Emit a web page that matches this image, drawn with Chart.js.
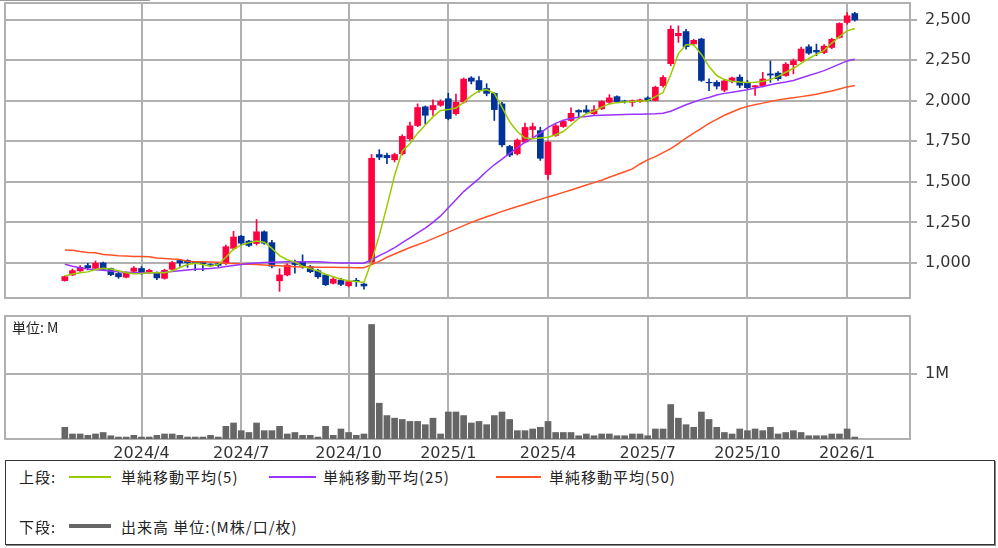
<!DOCTYPE html>
<html lang="ja">
<head>
<meta charset="utf-8">
<script src="https://cdn.jsdelivr.net/npm/chart.js@4.4.1/dist/chart.umd.min.js"></script>
<style>
    body { margin: 0; width: 998px; height: 548px; background: #fff; position: relative; overflow: hidden; font-family: "Noto Sans CJK JP", sans-serif; color: #222; }
    #topline { position: absolute; left: 0; top: 0; width: 150px; height: 1px; background: #999; }
    #price { position: absolute; left: 0; top: 0; }
    #volume { position: absolute; left: 0; top: 300px; }
    #unit { position: absolute; left: 12px; top: 319px; font-size: 14px; line-height: 16px; }
    #legend { position: absolute; left: 5px; top: 460px; width: 990px; height: 85px; box-sizing: border-box; border: 1px solid #333; box-shadow: 1px 1px 0 #888; }
    #legend span { position: absolute; font-size: 15px; line-height: 20px; letter-spacing: 1px; white-space: nowrap; }
    #legend i { position: absolute; display: block; }
</style>
</head>
<body>
<div id="topline"></div>
<canvas id="price" width="998" height="300"></canvas>
<canvas id="volume" width="998" height="160"></canvas>
<div id="unit">単位: M</div>
<div id="legend">
    <span style="left:13px; top:6px;">上段:</span>
    <i style="left:63px; top:15px; width:42px; height:2px; background:#99cc00;"></i>
    <span style="left:115px; top:6px;">単純移動平均(5)</span>
    <i style="left:263px; top:15px; width:47px; height:2px; background:#9933ff;"></i>
    <span style="left:317px; top:6px;">単純移動平均(25)</span>
    <i style="left:490px; top:15px; width:45px; height:2px; background:#ff5226;"></i>
    <span style="left:543px; top:6px;">単純移動平均(50)</span>
    <span style="left:13px; top:56px;">下段:</span>
    <i style="left:63px; top:63px; width:42px; height:4px; background:#666;"></i>
    <span style="left:115px; top:56px;">出来高 単位:(M株/口/枚)</span>
</div>
<script>
// weekly candles, index 0 = week of 2024/1/22
const opens = [891, 926, 951, 984, 967, 1000, 965, 935, 912, 948, 966, 942, 940, 905, 961, 1015, 1015, 1005, 1003, 990,
    995, 998, 1090, 1165, 1135, 1120, 1192, 1125, 890, 926, 1000, 1008, 977, 952, 926, 875, 895, 860, 893, 870,
    1005, 1668, 1663, 1636, 1673, 1765, 1847, 1962, 1944, 1972, 2012, 1920, 1992, 2140, 2124, 2075, 2045, 1980, 1718, 1673,
    1745, 1822, 1815, 1545, 1786, 1841, 1878, 1940, 1943, 1919, 1950, 1990, 2025, 1998, 1990, 1995, 2017, 2001, 2093, 2228,
    2400, 2426, 2350, 2380, 2113, 2113, 2065, 2120, 2145, 2113, 2085, 2092, 2165, 2170, 2155, 2222, 2246, 2332, 2310, 2297,
    2328, 2390, 2482, 2537];
const highs = [920, 963, 984, 998, 1012, 1005, 968, 945, 945, 978, 978, 962, 945, 962, 1010, 1020, 1020, 1008, 1008, 995,
    998, 1110, 1195, 1170, 1140, 1268, 1198, 1140, 965, 995, 1018, 1050, 985, 960, 930, 915, 905, 890, 905, 875,
    1668, 1698, 1677, 1677, 1790, 1868, 1980, 1968, 2005, 2005, 2046, 2040, 2140, 2148, 2148, 2105, 2050, 1990, 1725, 1765,
    1862, 1862, 1837, 1752, 1855, 1880, 1956, 1945, 1970, 1970, 2000, 2037, 2030, 2003, 2005, 2010, 2025, 2090, 2155, 2462,
    2461, 2440, 2378, 2385, 2134, 2124, 2130, 2145, 2160, 2125, 2095, 2175, 2245, 2180, 2235, 2257, 2330, 2345, 2349, 2345,
    2385, 2480, 2543, 2545];
const lows = [888, 922, 948, 957, 962, 955, 922, 905, 908, 945, 930, 935, 897, 900, 958, 978, 973, 953, 953, 980,
    978, 990, 1080, 1110, 1100, 1110, 1115, 970, 825, 920, 937, 967, 940, 905, 860, 870, 860, 852, 855, 838,
    995, 1636, 1612, 1622, 1665, 1755, 1840, 1857, 1909, 1965, 1882, 1910, 1985, 2103, 2052, 2030, 1878, 1715, 1655, 1665,
    1740, 1776, 1632, 1515, 1780, 1835, 1872, 1898, 1920, 1915, 1945, 1980, 1988, 1985, 1965, 1990, 1995, 1998, 2083, 2215,
    2359, 2318, 2340, 2118, 2062, 2072, 2055, 2110, 2080, 2075, 2032, 2085, 2113, 2125, 2150, 2165, 2240, 2285, 2277, 2290,
    2320, 2385, 2472, 2490];
const closes = [916, 953, 973, 971, 998, 960, 928, 915, 940, 968, 942, 955, 908, 955, 1002, 1000, 1002, 1000, 995, 985,
    985, 1100, 1160, 1122, 1108, 1192, 1122, 980, 926, 987, 990, 982, 946, 915, 866, 900, 868, 885, 885, 858,
    1645, 1652, 1649, 1668, 1780, 1845, 1958, 1910, 1970, 1995, 1890, 1990, 2133, 2120, 2068, 2045, 1945, 1728, 1665, 1757,
    1835, 1840, 1645, 1745, 1845, 1872, 1922, 1930, 1930, 1943, 1995, 2017, 1993, 1995, 2000, 2005, 2001, 2083, 2143, 2440,
    2415, 2333, 2372, 2125, 2110, 2090, 2122, 2140, 2095, 2080, 2092, 2133, 2158, 2135, 2225, 2246, 2318, 2293, 2300, 2336,
    2378, 2476, 2523, 2498];
const ma5 = [920, 932, 940, 945, 960, 967, 963, 952, 940, 933, 935, 940, 940, 940, 950, 972, 990, 998, 990, 980,
    990, 1035, 1085, 1110, 1125, 1135, 1128, 1090, 1045, 1020, 1005, 980, 965, 950, 930, 915, 900, 890, 885, 880,
    1010, 1170, 1350, 1540, 1690, 1735, 1800, 1850, 1900, 1940, 1945, 1955, 1990, 2030, 2060, 2068, 2045, 1960, 1870, 1810,
    1770, 1765, 1770, 1775, 1790, 1810, 1850, 1890, 1920, 1935, 1960, 1980, 1988, 1992, 1995, 1998, 2000, 2025, 2050, 2160,
    2290, 2345, 2345, 2285, 2210, 2155, 2130, 2120, 2115, 2112, 2113, 2120, 2130, 2150, 2175, 2200, 2230, 2260, 2285, 2310,
    2355, 2395, 2430, 2445];
const ma25 = [992, 980, 970, 962, 958, 955, 950, 945, 942, 940, 940, 940, 940, 942, 947, 952, 957, 961, 963, 966,
    970, 978, 985, 990, 997, 1000, 1003, 1005, 1006, 1007, 1008, 1008, 1008, 1007, 1005, 1002, 1000, 999, 998, 998,
    1020, 1045, 1068, 1095, 1125, 1155, 1185, 1215, 1250, 1290, 1340, 1390, 1440, 1480, 1520, 1565, 1605, 1640, 1675, 1710,
    1745, 1770, 1800, 1835, 1860, 1880, 1890, 1898, 1903, 1908, 1910, 1912, 1913, 1915, 1916, 1917, 1918, 1919, 1922, 1935,
    1955, 1975, 1992, 2008, 2020, 2035, 2045, 2052, 2060, 2068, 2078, 2088, 2098, 2108, 2115, 2125, 2140, 2155, 2170, 2185,
    2205, 2225, 2245, 2255];
const ma50 = [1080, 1078, 1070, 1065, 1063, 1052, 1049, 1045, 1043, 1040, 1039, 1038, 1030, 1028, 1024, 1022, 1010, 1008, 1007, 1006,
    1004, 998, 996, 993, 992, 990, 988, 985, 982, 980, 977, 975, 975, 974, 973, 973, 972, 972, 971, 971,
    990, 1010, 1035, 1055, 1075, 1095, 1112, 1130, 1150, 1170, 1190, 1210, 1230, 1250, 1268, 1285, 1300, 1318, 1333, 1348,
    1362, 1377, 1392, 1407, 1420, 1435, 1450, 1465, 1480, 1495, 1510, 1528, 1545, 1562, 1580, 1610, 1635, 1655, 1680, 1705,
    1735, 1770, 1800, 1830, 1860, 1885, 1910, 1930, 1950, 1965, 1975, 1985, 1995, 2005, 2012, 2018, 2025, 2032, 2040, 2050,
    2060, 2072, 2085, 2093];
// volume in millions
const volumes = [0.18, 0.077, 0.077, 0.056, 0.077, 0.1, 0.05, 0.03, 0.03, 0.056, 0.03, 0.03, 0.056, 0.077, 0.077, 0.056, 0.03, 0.03, 0.03, 0.056,
    0.03, 0.195, 0.246, 0.128, 0.1, 0.246, 0.128, 0.128, 0.195, 0.077, 0.1, 0.056, 0.056, 0.03, 0.195, 0.056, 0.154, 0.1, 0.056, 0.077,
    1.76, 0.55, 0.36, 0.32, 0.30, 0.27, 0.27, 0.22, 0.32, 0.077, 0.415, 0.415, 0.36, 0.246, 0.27, 0.22, 0.36, 0.415, 0.30, 0.128,
    0.128, 0.154, 0.18, 0.27, 0.1, 0.1, 0.1, 0.05, 0.077, 0.05, 0.077, 0.077, 0.05, 0.05, 0.077, 0.077, 0.05, 0.154, 0.154, 0.53,
    0.32, 0.22, 0.18, 0.415, 0.30, 0.18, 0.1, 0.077, 0.154, 0.128, 0.154, 0.128, 0.18, 0.077, 0.1, 0.128, 0.1, 0.05, 0.05, 0.05,
    0.077, 0.077, 0.154, 0.03];

// first week of each quarter month
const monthTicks = [10, 23, 37, 50, 63, 76, 89, 102];
const monthLabels = ['2024/4', '2024/7', '2024/10', '2025/1', '2025/4', '2025/7', '2025/10', '2026/1'];
const priceTicks = [1000, 1250, 1500, 1750, 2000, 2250, 2500];
const volumeTicks = [1];

const UP = '#ff0040';
const DOWN = '#00339a';
const GRID = '#b0b0b0';
const X_MIN = -7.8, X_MAX = 110.2;

const candleColors = closes.map((c, i) => c >= opens[i] ? UP : DOWN);
const pts = arr => arr.map((v, i) => ({ x: i, y: v }));

const framePlugin = {
    id: 'frame',
    beforeDatasetsDraw(chart) {
        const { ctx, chartArea: a } = chart;
        ctx.save();
        ctx.strokeStyle = GRID;
        ctx.lineWidth = 2;
        ctx.strokeRect(a.left, a.top, a.right - a.left, a.bottom - a.top);
        ctx.restore();
    }
};

// keep the plot box where it is: no extra room for half labels
const fixWidth = s => {
    s.width = 88;
    s.paddingTop = 0;
    s.paddingBottom = 0;
};

const xAxis = (showLabels) => ({
    type: 'linear',
    min: X_MIN,
    max: X_MAX,
    offset: false,
    afterBuildTicks: s => { s.ticks = monthTicks.map(v => ({ value: v })); },
    afterFit: s => {
        s.height = showLabels ? 21 : 0;
        s.paddingLeft = 0;
        s.paddingRight = 0;
    },
    grid: { color: GRID, lineWidth: 2, drawTicks: false, offset: false },
    border: { display: false },
    ticks: {
        display: showLabels,
        autoSkip: false,
        maxRotation: 0,
        padding: 5,
        color: '#333',
        font: { family: 'DejaVu Sans', size: 16 },
        callback: (v, i) => monthLabels[i]
    }
});

Chart.defaults.animation = false;

new Chart(document.getElementById('price'), {
    type: 'bar',
    data: {
        datasets: [
            { type: 'line', data: pts(ma5), borderColor: '#99cc00', borderWidth: 1.5, pointRadius: 0, order: 0 },
            { type: 'line', data: pts(ma25), borderColor: '#9933ff', borderWidth: 1.5, pointRadius: 0, order: 0 },
            { type: 'line', data: pts(ma50), borderColor: '#ff5226', borderWidth: 1.5, pointRadius: 0, order: 0 },
            {
                data: opens.map((o, i) => ({ x: i, y: [o, closes[i]] })),
                backgroundColor: candleColors, barThickness: 6, grouped: false, order: 1
            },
            {
                data: lows.map((l, i) => ({ x: i, y: [l, highs[i]] })),
                backgroundColor: candleColors, barThickness: 1, grouped: false, order: 2
            }
        ]
    },
    options: {
        responsive: false,
        layout: { padding: { left: 5, top: 3, bottom: 2, right: 0 } },
        plugins: { legend: { display: false }, tooltip: { enabled: false } },
        scales: {
            x: xAxis(false),
            y: {
                position: 'right',
                min: 784,
                max: 2602,
                afterBuildTicks: s => { s.ticks = priceTicks.map(v => ({ value: v })); },
                afterFit: fixWidth,
                grid: { color: GRID, lineWidth: 2, tickLength: 7 },
                border: { display: false },
                ticks: {
                    padding: 8,
                    color: '#333',
                    font: { family: 'DejaVu Sans', size: 16 },
                    callback: v => v.toLocaleString('en-US')
                }
            }
        }
    },
    plugins: [framePlugin]
});

new Chart(document.getElementById('volume'), {
    type: 'bar',
    data: {
        datasets: [{
            data: pts(volumes),
            backgroundColor: '#666666',
            barThickness: 6
        }]
    },
    options: {
        responsive: false,
        layout: { padding: { left: 5, top: 16, bottom: 0, right: 0 } },
        plugins: { legend: { display: false }, tooltip: { enabled: false } },
        scales: {
            x: xAxis(true),
            y: {
                position: 'right',
                min: 0,
                max: 1.89,
                afterBuildTicks: s => { s.ticks = volumeTicks.map(v => ({ value: v })); },
                afterFit: fixWidth,
                grid: { color: GRID, lineWidth: 2, tickLength: 7 },
                border: { display: false },
                ticks: {
                    padding: 8,
                    color: '#333',
                    font: { family: 'DejaVu Sans', size: 16 },
                    callback: v => v + 'M'
                }
            }
        }
    },
    plugins: [framePlugin]
});
</script>
</body>
</html>
